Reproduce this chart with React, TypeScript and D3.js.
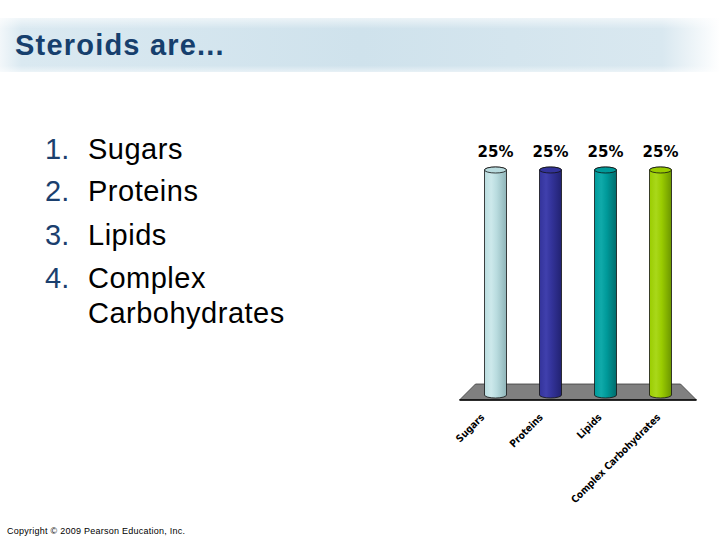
import { useRef, useEffect } from 'react';
import * as d3 from 'd3';

const categories = ['Sugars', 'Proteins', 'Lipids', 'Complex Carbohydrates'];
const values = [25, 25, 25, 25];
const valueLabels = ['25%', '25%', '25%', '25%'];
const listNumbers = ['1.', '2.', '3.', '4.'];
const listItems = ['Sugars', 'Proteins', 'Lipids', 'Complex', 'Carbohydrates'];

// base, highlight, shadow for each cylinder
const barColors = [
  ['#b9dcdf', '#cde9eb', '#8fb5b9'],
  ['#33339a', '#4040ad', '#222272'],
  ['#009a9a', '#10aaaa', '#006c6c'],
  ['#9acc00', '#a9d81a', '#6c9600'],
];

const WIDTH = 720;
const HEIGHT = 540;

const App = () => {
  const svgRef = useRef<SVGSVGElement>(null);

  useEffect(() => {
    if (!svgRef.current) return;
    const svg = d3.select(svgRef.current);
    svg.selectAll('*').remove();

    const defs = svg.append('defs');

    // title band gradient
    const band = defs.append('linearGradient').attr('id', 'band').attr('x1', 0).attr('x2', 1);
    band.append('stop').attr('offset', '0%').attr('stop-color', '#f2f7fa');
    band.append('stop').attr('offset', '3%').attr('stop-color', '#dae9f1');
    band.append('stop').attr('offset', '50%').attr('stop-color', '#cfe2ec');
    band.append('stop').attr('offset', '92%').attr('stop-color', '#d9e8f0');
    band.append('stop').attr('offset', '100%').attr('stop-color', '#ffffff');

    const bandV = defs.append('linearGradient').attr('id', 'bandV').attr('x1', 0).attr('x2', 0).attr('y1', 0).attr('y2', 1);
    bandV.append('stop').attr('offset', '0%').attr('stop-color', '#ffffff').attr('stop-opacity', 0.6);
    bandV.append('stop').attr('offset', '20%').attr('stop-color', '#ffffff').attr('stop-opacity', 0);
    bandV.append('stop').attr('offset', '88%').attr('stop-color', '#ffffff').attr('stop-opacity', 0);
    bandV.append('stop').attr('offset', '100%').attr('stop-color', '#ffffff').attr('stop-opacity', 0.5);

    svg.append('rect').attr('x', 0).attr('y', 18).attr('width', WIDTH).attr('height', 54).attr('fill', 'url(#band)');
    svg.append('rect').attr('x', 0).attr('y', 18).attr('width', WIDTH).attr('height', 54).attr('fill', 'url(#bandV)');

    svg.append('text')
      .attr('x', 15)
      .attr('y', 55)
      .attr('font-family', 'Liberation Sans, Arial, sans-serif')
      .attr('font-weight', 'bold')
      .attr('font-size', 29)
      .attr('letter-spacing', 1.2)
      .attr('fill', '#163f6d')
      .text('Steroids are...');

    // numbered list
    const lineY = [159, 201, 245, 288, 323];
    svg.append('g').selectAll('text')
      .data(listNumbers)
      .join('text')
      .attr('x', 45)
      .attr('y', (_, i) => lineY[i])
      .attr('font-family', 'Liberation Sans, Arial, sans-serif')
      .attr('font-size', 29)
      .attr('fill', '#1b3f6e')
      .text(d => d);
    svg.append('g').selectAll('text')
      .data(listItems)
      .join('text')
      .attr('x', 88)
      .attr('y', (_, i) => lineY[i])
      .attr('font-family', 'Liberation Sans, Arial, sans-serif')
      .attr('font-size', 29)
      .attr('letter-spacing', 0.5)
      .attr('fill', '#000000')
      .text(d => d);

    // chart
    const x = d3.scalePoint<string>().domain(categories).range([495.5, 660.5]);
    const labelX = d3.scalePoint<string>().domain(categories).range([485, 661]);
    const y = d3.scaleLinear().domain([0, 25]).range([395, 170]);
    const barW = 22;
    const base = y(0);

    // floor
    const floorTop = base - 11;
    const floorBottom = base + 5;
    const x0 = x(categories[0])! - 20;
    const x1 = x(categories[categories.length - 1])! + 20;
    svg.append('polygon')
      .attr('points', [
        [x0, floorTop], [x1, floorTop], [x1 + 16, floorBottom], [x0 - 16, floorBottom],
      ].map(p => p.join(',')).join(' '))
      .attr('fill', '#808080')
      .attr('stroke', '#3a3a3a')
      .attr('stroke-width', 0.8);
    svg.append('line')
      .attr('x1', x0 - 16).attr('x2', x1 + 16)
      .attr('y1', floorBottom).attr('y2', floorBottom)
      .attr('stroke', '#000').attr('stroke-width', 1.5);

    categories.forEach((c, i) => {
      const g = defs.append('linearGradient').attr('id', `cyl${i}`).attr('x1', 0).attr('x2', 1);
      g.append('stop').attr('offset', '0%').attr('stop-color', barColors[i][0]);
      g.append('stop').attr('offset', '30%').attr('stop-color', barColors[i][1]);
      g.append('stop').attr('offset', '55%').attr('stop-color', barColors[i][0]);
      g.append('stop').attr('offset', '100%').attr('stop-color', barColors[i][2]);
    });

    const bars = svg.append('g').selectAll('g')
      .data(values)
      .join('g');

    const ry = 3;
    bars.append('path')
      .attr('d', (d, i) => {
        const cx = x(categories[i])!;
        const l = cx - barW / 2;
        const r = cx + barW / 2;
        const top = y(d);
        return `M${l},${top} L${l},${base} A${barW / 2},${ry} 0 0 0 ${r},${base} L${r},${top} A${barW / 2},${ry} 0 0 0 ${l},${top} Z`;
      })
      .attr('fill', (_, i) => `url(#cyl${i})`)
      .attr('stroke', '#111')
      .attr('stroke-width', 0.8);
    bars.append('ellipse')
      .attr('cx', (_, i) => x(categories[i])!)
      .attr('cy', d => y(d))
      .attr('rx', barW / 2)
      .attr('ry', ry)
      .attr('fill', (_, i) => barColors[i][0])
      .attr('stroke', '#111')
      .attr('stroke-width', 0.8);

    // value labels
    svg.append('g').selectAll('text')
      .data(values)
      .join('text')
      .attr('x', (_, i) => x(categories[i])!)
      .attr('y', d => y(d) - 13)
      .attr('text-anchor', 'middle')
      .attr('font-family', 'DejaVu Sans, Verdana, sans-serif')
      .attr('font-weight', 'bold')
      .attr('font-size', 15)
      .attr('fill', '#000')
      .text((_, i) => valueLabels[i]);

    // category labels
    svg.append('g').selectAll('text')
      .data(categories)
      .join('text')
      .attr('transform', d => `translate(${labelX(d)},${base + 23}) rotate(-45)`)
      .attr('text-anchor', 'end')
      .attr('font-family', 'DejaVu Sans Condensed, DejaVu Sans, sans-serif')
      .attr('font-weight', 'bold')
      .attr('font-size', 10)
      .attr('fill', '#000')
      .text(d => d);

    // copyright
    svg.append('text')
      .attr('x', 7)
      .attr('y', 534)
      .attr('font-family', 'Liberation Sans, Arial, sans-serif')
      .attr('font-size', 9)
      .attr('letter-spacing', 0.25)
      .attr('fill', '#000')
      .text('Copyright © 2009 Pearson Education, Inc.');
  }, []);

  return (
    <svg
      ref={svgRef}
      width={WIDTH}
      height={HEIGHT}
      style={{ position: 'absolute', left: 0, top: 0, background: '#ffffff' }}
    />
  );
};

export default App;
